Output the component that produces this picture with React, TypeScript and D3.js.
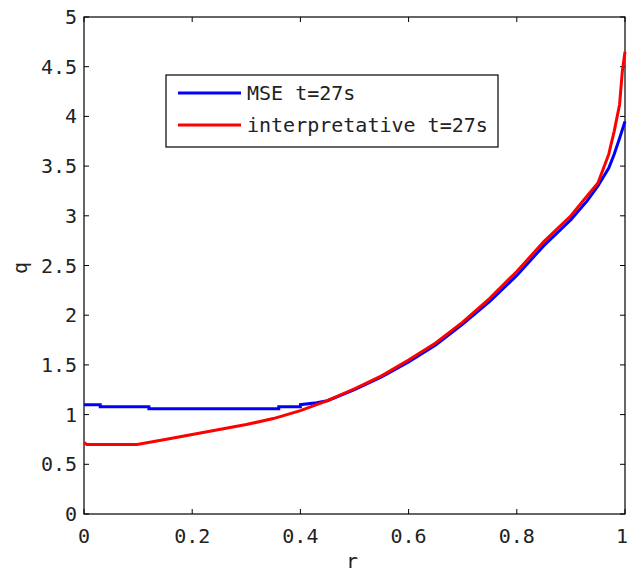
import React, { useRef, useEffect } from 'react';
import * as d3 from 'd3';

// MSE profile at t=27s
const mseR = [0, 0.03, 0.03, 0.12, 0.12, 0.36, 0.36, 0.40, 0.40, 0.43, 0.45, 0.5, 0.55, 0.6, 0.65, 0.7, 0.75, 0.8, 0.85, 0.9, 0.93, 0.95, 0.97, 0.98, 0.99, 1.0];
const mseQ = [1.10, 1.10, 1.08, 1.08, 1.06, 1.06, 1.08, 1.08, 1.10, 1.12, 1.14, 1.25, 1.38, 1.53, 1.70, 1.91, 2.14, 2.40, 2.70, 2.96, 3.15, 3.30, 3.48, 3.62, 3.78, 3.95];

// interpretative profile at t=27s
const intR = [0, 0.005, 0.098, 0.15, 0.2, 0.25, 0.3, 0.35, 0.4, 0.45, 0.5, 0.55, 0.6, 0.65, 0.7, 0.75, 0.8, 0.85, 0.9, 0.93, 0.95, 0.97, 0.98, 0.99, 0.995, 1.0];
const intQ = [0.72, 0.70, 0.70, 0.75, 0.80, 0.85, 0.90, 0.96, 1.04, 1.14, 1.26, 1.39, 1.55, 1.72, 1.93, 2.17, 2.44, 2.74, 3.0, 3.2, 3.33, 3.62, 3.85, 4.12, 4.45, 4.65];

const xTicks = [0, 0.2, 0.4, 0.6, 0.8, 1];
const yTicks = [0, 0.5, 1, 1.5, 2, 2.5, 3, 3.5, 4, 4.5, 5];
const seriesNames = ['MSE t=27s', 'interpretative t=27s'];

const App = () => {
    const svgRef = useRef<SVGSVGElement>(null);

    useEffect(() => {
        const svg = d3.select(svgRef.current);
        svg.selectAll("*").remove();

        const W = 628;
        const left = 84, right = 625, top = 17, bottom = 514;
        const font = "'DejaVu Sans Mono', monospace";

        const x = d3.scaleLinear().domain([0, 1]).range([left, right]);
        const y = d3.scaleLinear().domain([0, 5]).range([bottom, top]);

        // Box
        svg.append("rect")
            .attr("x", left).attr("y", top)
            .attr("width", right - left).attr("height", bottom - top)
            .attr("fill", "none").attr("stroke", "#000").attr("stroke-width", 1.2);

        const tickLen = 5;
        // X ticks (bottom and top, inward)
        xTicks.forEach(t => {
            svg.append("line").attr("x1", x(t)).attr("x2", x(t)).attr("y1", bottom).attr("y2", bottom - tickLen).attr("stroke", "#000");
            svg.append("line").attr("x1", x(t)).attr("x2", x(t)).attr("y1", top).attr("y2", top + tickLen).attr("stroke", "#000");
            const label = String(t);
            const halfW = label.length * 6;
            svg.append("text")
                .attr("x", Math.min(x(t), W - halfW)).attr("y", 543)
                .attr("text-anchor", "middle")
                .attr("font-family", font).attr("font-size", "20px").attr("fill", "#222")
                .text(label);
        });

        // Y ticks (left and right, inward)
        yTicks.forEach(t => {
            svg.append("line").attr("x1", left).attr("x2", left + tickLen).attr("y1", y(t)).attr("y2", y(t)).attr("stroke", "#000");
            svg.append("line").attr("x1", right).attr("x2", right - tickLen).attr("y1", y(t)).attr("y2", y(t)).attr("stroke", "#000");
            svg.append("text")
                .attr("x", 77).attr("y", y(t) + 7)
                .attr("text-anchor", "end")
                .attr("font-family", font).attr("font-size", "20px").attr("fill", "#222")
                .text(String(t));
        });

        // Axis labels
        svg.append("text")
            .attr("x", 352).attr("y", 568)
            .attr("text-anchor", "middle")
            .attr("font-family", font).attr("font-size", "20px").attr("fill", "#222")
            .text("r");
        svg.append("text")
            .attr("transform", "translate(27,268) rotate(-90)")
            .attr("text-anchor", "middle")
            .attr("font-family", font).attr("font-size", "20px").attr("fill", "#222")
            .text("q");

        const line = d3.line<[number, number]>()
            .x(d => x(d[0]))
            .y(d => y(d[1]));

        const mse = mseR.map((r, i) => [r, mseQ[i]] as [number, number]);
        const interp = intR.map((r, i) => [r, intQ[i]] as [number, number]);

        svg.append("path").datum(mse)
            .attr("d", line).attr("fill", "none")
            .attr("stroke", "#0000ff").attr("stroke-width", 3);
        svg.append("path").datum(interp)
            .attr("d", line).attr("fill", "none")
            .attr("stroke", "#ff0000").attr("stroke-width", 3);

        // Legend
        const legend = svg.append("g");
        legend.append("rect")
            .attr("x", 166).attr("y", 75)
            .attr("width", 332).attr("height", 72)
            .attr("fill", "#fff").attr("stroke", "#000").attr("stroke-width", 1.2);
        const colors = ["#0000ff", "#ff0000"];
        seriesNames.forEach((name, i) => {
            const ly = 93 + i * 32;
            legend.append("line")
                .attr("x1", 178).attr("x2", 241).attr("y1", ly).attr("y2", ly)
                .attr("stroke", colors[i]).attr("stroke-width", 3);
            legend.append("text")
                .attr("x", 247).attr("y", ly + 7)
                .attr("font-family", font).attr("font-size", "20px").attr("fill", "#222")
                .text(name);
        });
    }, []);

    return (
        <svg ref={svgRef} width={628} height={574}
            style={{ position: 'absolute', left: 0, top: 0, background: '#fff' }} />
    );
};

export default App;
